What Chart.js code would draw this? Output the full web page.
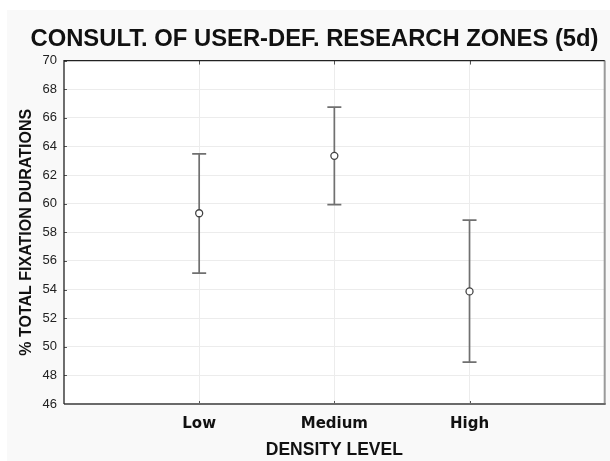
<!DOCTYPE html>
<html><head><meta charset="utf-8">
<script src="https://cdn.jsdelivr.net/npm/chart.js@4.4.1/dist/chart.umd.min.js"></script>
<style>html,body{margin:0;padding:0;background:#fff;}#wrap{width:610px;height:461px;}</style>
</head><body><div id="wrap"><canvas id="c" width="610" height="461"></canvas></div>
<script>
const categories = ['Low', 'Medium', 'High'];
const means = [59.33, 63.34, 53.87];
const upper = [63.48, 66.74, 58.85];
const lower = [55.15, 59.93, 48.93];
const yMin = 46, yMax = 70, yStep = 2;

const bgPlugin = {
  id: 'bg',
  beforeDraw(chart) {
    const ctx = chart.ctx, a = chart.chartArea;
    ctx.save();
    ctx.fillStyle = '#ffffff';
    ctx.fillRect(0, 0, chart.width, chart.height);
    ctx.fillStyle = '#f9f9f9';
    ctx.fillRect(7, 10, chart.width - 7, chart.height - 10);
    ctx.fillStyle = '#ffffff';
    ctx.fillRect(a.left, a.top, a.right - a.left, a.bottom - a.top);
    ctx.restore();
  },
  beforeDatasetsDraw(chart) {
    const ctx = chart.ctx, xs = chart.scales.x, ys = chart.scales.y;
    ctx.save();
    ctx.strokeStyle = '#707070';
    ctx.lineWidth = 1.7;
    categories.forEach((c, i) => {
      const x = xs.getPixelForValue(i + 1);
      const yt = ys.getPixelForValue(upper[i]);
      const yb = ys.getPixelForValue(lower[i]);
      ctx.beginPath();
      ctx.moveTo(x, yt); ctx.lineTo(x, yb);
      ctx.moveTo(x - 7, yt); ctx.lineTo(x + 7, yt);
      ctx.moveTo(x - 7, yb); ctx.lineTo(x + 7, yb);
      ctx.stroke();
    });
    ctx.restore();
  },
  afterDraw(chart) {
    const ctx = chart.ctx, a = chart.chartArea, xs = chart.scales.x, ys = chart.scales.y;
    ctx.save();
    ctx.strokeStyle = '#555';
    ctx.lineWidth = 1;
    categories.forEach((c, i) => {
      const x = Math.round(xs.getPixelForValue(i + 1)) + 0.5;
      ctx.beginPath();
      ctx.moveTo(x, a.top); ctx.lineTo(x, a.top + 4);
      ctx.moveTo(x, a.bottom); ctx.lineTo(x, a.bottom - 3);
      ctx.stroke();
    });
    for (let v = yMin; v <= yMax; v += yStep) {
      const y = Math.round(ys.getPixelForValue(v)) + 0.5;
      ctx.beginPath();
      ctx.moveTo(a.left, y); ctx.lineTo(a.left + 3, y);
      ctx.stroke();
    }
    ctx.lineWidth = 2;
    ctx.strokeStyle = '#9a9a9a';
    ctx.beginPath();
    ctx.moveTo(a.right, a.top); ctx.lineTo(a.right, a.bottom);
    ctx.stroke();
    ctx.strokeStyle = '#6a6a6a';
    ctx.beginPath();
    ctx.moveTo(a.left, a.bottom); ctx.lineTo(a.right + 1, a.bottom);
    ctx.stroke();
    ctx.lineWidth = 1.3;
    ctx.strokeStyle = '#222';
    ctx.beginPath();
    ctx.moveTo(a.left, a.bottom); ctx.lineTo(a.left, a.top); ctx.lineTo(a.right, a.top);
    ctx.stroke();
    ctx.restore();
  }
};

new Chart(document.getElementById('c'), {
  type: 'scatter',
  data: {
    datasets: [{
      data: categories.map((c, i) => ({ x: i + 1, y: means[i] })),
      pointRadius: 3.5,
      pointBorderWidth: 1.3,
      pointBorderColor: '#444',
      pointBackgroundColor: '#ffffff'
    }]
  },
  options: {
    responsive: false,
    animation: false,
    devicePixelRatio: 1,
    layout: { padding: { left: 22, right: 3, top: 0, bottom: 0 } },
    plugins: {
      legend: { display: false },
      tooltip: { enabled: false },
      title: {
        display: true,
        text: 'CONSULT. OF USER-DEF. RESEARCH ZONES (5d)',
        color: '#111',
        font: { family: 'Liberation Sans', size: 23.8, weight: 'bold' },
        padding: { top: 25, bottom: 7 }
      }
    },
    scales: {
      x: {
        type: 'linear',
        min: 0, max: 4,
        afterBuildTicks: s => { s.ticks = categories.map((c, i) => ({ value: i + 1 })); },
        afterFit: s => { s.height = 57; },
        ticks: {
          callback: v => categories[v - 1],
          color: '#111',
          font: { family: 'DejaVu Sans', size: 15, weight: 'bold' },
          padding: 11,
          autoSkip: false,
          maxRotation: 0
        },
        grid: { color: '#ececec', drawTicks: false },
        border: { display: false },
        title: {
          display: true,
          text: 'DENSITY LEVEL',
          color: '#111',
          font: { family: 'Liberation Sans', size: 17.5, weight: 'bold' },
          padding: { top: 0, bottom: 0 }
        }
      },
      y: {
        min: yMin, max: yMax,
        afterFit: s => { s.width = 42; },
        ticks: {
          stepSize: yStep,
          color: '#222',
          font: { family: 'Liberation Sans', size: 13 },
          padding: 7
        },
        grid: { color: '#ececec', drawTicks: false },
        border: { display: false },
        title: {
          display: true,
          text: '% TOTAL FIXATION DURATIONS',
          color: '#111',
          font: { family: 'Liberation Sans', size: 16, weight: 'bold' },
          padding: { top: -5, bottom: 0 }
        }
      }
    }
  },
  plugins: [bgPlugin]
});
</script>
</body></html>
